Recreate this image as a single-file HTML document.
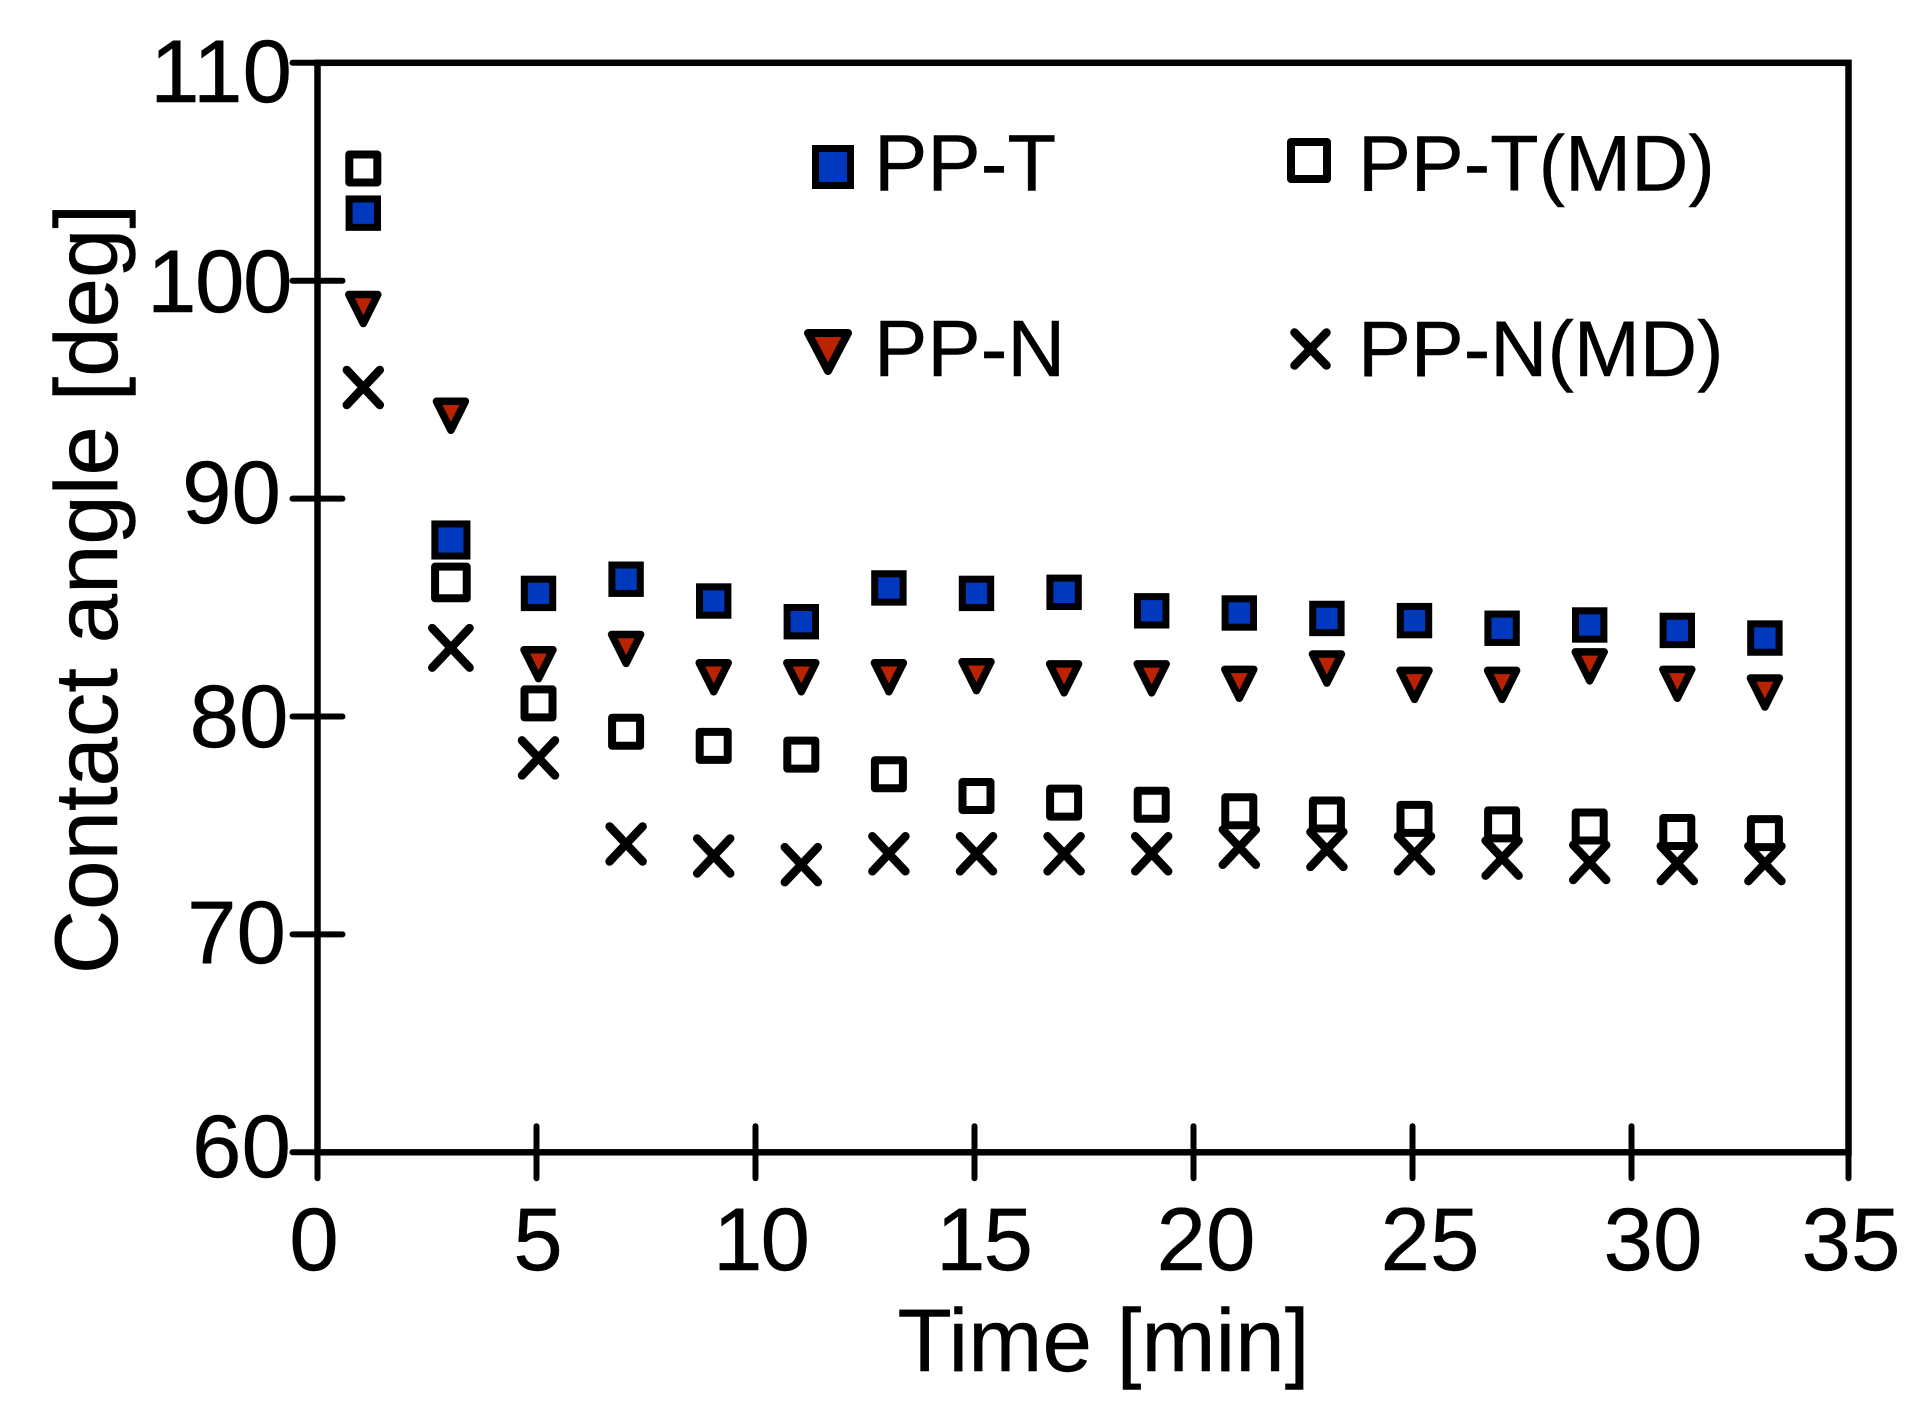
<!DOCTYPE html>
<html lang="en">
<head>
<meta charset="utf-8">
<title>Contact angle vs time</title>
<style>
html,body{margin:0;padding:0;background:#fff;width:1928px;height:1426px;overflow:hidden}
svg{display:block}
text{font-family:"Liberation Sans",Arial,sans-serif;fill:#000;stroke:#000;stroke-width:0.4px}
.tick{font-size:89px}
.title{font-size:89px}
.ytitle{font-size:88.8px}
.leg{font-size:80px}
.legmd{font-size:79.3px}
</style>
</head>
<body>
<svg id="chart" width="1928" height="1426" viewBox="0 0 1928 1426" xmlns="http://www.w3.org/2000/svg">
  <rect x="0" y="0" width="1928" height="1426" fill="#fff"/>
  <g id="axes"></g>
  <g id="marks"></g>

  <g class="tick" text-anchor="end">
    <text class="tick" x="292" y="102">110</text>
    <text class="tick" x="291" y="312" letter-spacing="-1.5">100</text>
    <text class="tick" x="281" y="523">90</text>
    <text class="tick" x="288.5" y="747">80</text>
    <text class="tick" x="286" y="963">70</text>
    <text class="tick" x="291" y="1177">60</text>
  </g>
  <g class="tick" text-anchor="middle">
    <text class="tick" x="314" y="1270">0</text>
    <text class="tick" x="538" y="1270">5</text>
    <text class="tick" x="760.5" y="1270" letter-spacing="-2">10</text>
    <text class="tick" x="983.5" y="1270" letter-spacing="-2">15</text>
    <text class="tick" x="1206" y="1270">20</text>
    <text class="tick" x="1430" y="1270">25</text>
    <text class="tick" x="1653" y="1270">30</text>
    <text class="tick" x="1851" y="1270">35</text>
  </g>
  <text class="title" x="1103.5" y="1371" text-anchor="middle">Time [min]</text>
  <text class="ytitle" text-anchor="middle" transform="translate(117,589) rotate(-90)">Contact angle [deg]</text>

  <g>
    <g>
      <rect x="815.5" y="148.5" width="35" height="37" fill="#0038BE" stroke="#000" stroke-width="7"/>
      <text class="leg" x="874" y="190.5">PP-T</text>
    </g>
    <g>
      <rect x="1291" y="142" width="36" height="37" fill="#fff" stroke="#000" stroke-width="8" stroke-linejoin="round"/>
      <text class="legmd" x="1358" y="190.5">PP-T(MD)</text>
    </g>
    <g>
      <polygon points="808,333 848,333 828,371" fill="#BB2200" stroke="#000" stroke-width="8" stroke-linejoin="round"/>
      <text class="leg" x="874" y="376">PP-N</text>
    </g>
    <g>
      <path d="M1294.5 332.5 L1326.5 365.5 M1326.5 332.5 L1294.5 365.5" fill="none" stroke="#000" stroke-width="8.5" stroke-linecap="round"/>
      <text class="legmd" x="1358" y="376">PP-N(MD)</text>
    </g>
  </g>
</svg>
<script>
const times = [1,3,5,7,9,11,13,15,17,19,21,23,25,27,29,31,33];
const ppT   = [103.1,88.1,85.65,86.3,85.3,84.35,85.9,85.65,85.7,84.85,84.75,84.5,84.4,84.05,84.2,83.95,83.6];
const ppTMD = [105.15,86.15,80.6,79.3,78.65,78.25,77.35,76.35,76.05,75.95,75.65,75.5,75.3,75.05,74.95,74.7,74.65];
const ppN   = [98.7,93.8,82.4,83.1,81.8,81.8,81.8,81.85,81.75,81.75,81.5,82.2,81.45,81.45,82.3,81.5,81.1];
const ppNMD = [95.1,83.15,78.1,74.15,73.6,73.2,73.7,73.7,73.7,73.7,74.0,73.9,73.7,73.5,73.3,73.25,73.25];
const xTicks = [0,5,10,15,20,25,30,35];
const yTicks = [60,70,80,90,100,110];

const NS = 'http://www.w3.org/2000/svg';
function xScale(v){ return 317.5 + v * 43.8; }
function yScale(v){ return 1152.3 - (v - 60) * 21.79; }
function mk(tag, attrs, parent){
  const el = document.createElementNS(NS, tag);
  for (const k in attrs) el.setAttribute(k, attrs[k]);
  parent.appendChild(el);
  return el;
}
function sizeAt(t){ return t === 3 ? 1.13 : 1; }
const axes = document.getElementById('axes');
const marks = document.getElementById('marks');

const frame = mk('rect', {x:xScale(0), y:yScale(110), width:xScale(35)-xScale(0)-2, height:yScale(60)-yScale(110), stroke:'#000','stroke-width':6.5,fill:'none'}, axes);



xTicks.forEach(function(t){
  const x = t === 35 ? xScale(t) - 2 : xScale(t);
  const tick = mk('line', {x1:x, x2:x, y1:t===0||t===35 ? yScale(60) : yScale(60)-26, y2:yScale(60)+26, stroke:'#000','stroke-width':6,'stroke-linecap':'round'}, axes);
  
  
});
yTicks.forEach(function(t){
  const y = yScale(t);
  const tick = mk('line', {x1:xScale(0)-25, x2:t===60||t===110 ? xScale(0) : xScale(0)+25, y1:y, y2:y, stroke:'#000','stroke-width':6,'stroke-linecap':'round'}, axes);
  
  
});

const dx = 2;
ppT.forEach(function(v, i){
  const s = sizeAt(times[i]);
  const cx = xScale(times[i]) + dx, cy = yScale(v), h = 14.2 * s;
  const m = mk('rect', {x:cx-h, y:cy-h, width:2*h, height:2*h, fill:'#0038BE', stroke:'#000','stroke-width':7}, marks);
  
  
});
ppN.forEach(function(v, i){
  const cx = xScale(times[i]) + dx, cy = yScale(v), h = 14.5;
  const m = mk('polygon', {points:(cx-h)+','+(cy-h)+' '+(cx+h)+','+(cy-h)+' '+cx+','+(cy+h), fill:'#BB2200', stroke:'#000','stroke-width':7.5,'stroke-linejoin':'round'}, marks);
  
  
});
ppTMD.forEach(function(v, i){
  const s = sizeAt(times[i]);
  const cx = xScale(times[i]) + dx, cy = yScale(v), h = 14 * s;
  const m = mk('rect', {x:cx-h, y:cy-h, width:2*h, height:2*h, fill:'#fff', stroke:'#000','stroke-width':8,'stroke-linejoin':'round'}, marks);
  
  
});
ppNMD.forEach(function(v, i){
  const s = sizeAt(times[i]);
  const cx = xScale(times[i]) + dx, cy = yScale(v), hx = 16.5 * s, hy = 17.5 * s;
  const d = 'M'+(cx-hx)+' '+(cy-hy)+' L'+(cx+hx)+' '+(cy+hy)+' M'+(cx+hx)+' '+(cy-hy)+' L'+(cx-hx)+' '+(cy+hy);
  const m = mk('path', {d:d, fill:'none', stroke:'#000','stroke-width':8.5,'stroke-linecap':'round'}, marks);
  
  
});
</script>
</body>
</html>
